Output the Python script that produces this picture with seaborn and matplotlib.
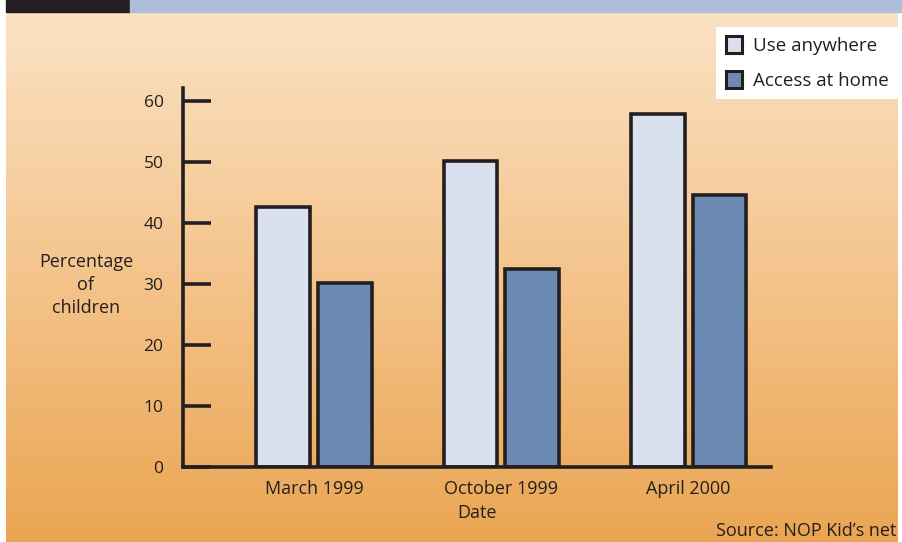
import numpy as np
import pandas as pd
import matplotlib.pyplot as plt
import matplotlib.colors as mcolors
from matplotlib.patches import Rectangle, Patch
import seaborn as sns

# Children using the internet
dates = ['March 1999', 'October 1999', 'April 2000']
use_anywhere = [42.6, 50.2, 57.9]
access_home = [30.2, 32.5, 44.7]
series = ['Use anywhere', 'Access at home']
colors = ['#dae1ee', '#6b8bb5']

df = pd.DataFrame({
    'Date': dates * 2,
    'Series': [series[0]] * 3 + [series[1]] * 3,
    'Value': use_anywhere + access_home,
})

sns.set_style('white')
plt.rcParams['font.family'] = ['Open Sans', 'DejaVu Sans']
ink = '#231f20'

fig = plt.figure(figsize=(9.02, 5.42), dpi=100)
fig.patch.set_facecolor('white')

# gradient background
bg = fig.add_axes([6 / 902, 0, 892 / 902, 1 - 12 / 542], zorder=-2)
cmap = mcolors.LinearSegmentedColormap.from_list('bg', ['#fbe2c4', '#f4c48c', '#eaa552'])
grad = np.linspace(0, 1, 256).reshape(-1, 1)
bg.imshow(grad, aspect='auto', cmap=cmap, extent=[0, 1, 0, 1], origin='upper')
bg.set_axis_off()

# header strip
fig.patches.append(Rectangle((6 / 902, 1 - 12 / 542), 124 / 902, 12 / 542,
                             transform=fig.transFigure, color=ink, zorder=-1))
fig.patches.append(Rectangle((130 / 902, 1 - 12 / 542), 772 / 902, 12 / 542,
                             transform=fig.transFigure, color='#adbfd8', zorder=-1))

ax = fig.add_axes([183 / 902, 75 / 542, 588 / 902, 379 / 542])
ax.set_facecolor('none')
sns.barplot(data=df, x='Date', y='Value', hue='Series', palette=colors,
            width=0.66, gap=0.13, edgecolor=ink, linewidth=2.6, ax=ax,
            legend=False, saturation=1)

ax.set_xlim(-0.70, 2.44)
ax.set_ylim(0, 62.2)
ax.set_yticks(range(0, 61, 10))
for s in ['top', 'right']:
    ax.spines[s].set_visible(False)
for s in ['left', 'bottom']:
    ax.spines[s].set_color(ink)
    ax.spines[s].set_linewidth(2.6)
ax.tick_params(axis='y', left=True, direction='in', length=20, width=2.6,
               color=ink, pad=14, labelsize=12.5, labelcolor=ink)
ax.tick_params(axis='x', bottom=False, length=0, pad=9, labelsize=13,
               labelcolor=ink)

ax.set_xlabel('Date', fontsize=13, color=ink, labelpad=5)
ax.set_ylabel('')
fig.text(86 / 902, 1 - 285 / 542, 'Percentage\nof\nchildren', ha='center',
         va='center', fontsize=13, color=ink, linespacing=1.38)
fig.text(896 / 902, 1 - 531 / 542, 'Source: NOP Kid\u2019s net', ha='right',
         va='center', fontsize=13, color=ink)

handles = [Patch(facecolor=c, edgecolor=ink, linewidth=2.2) for c in colors]
leg = ax.legend(handles, series, loc='upper right',
                bbox_to_anchor=(898 / 902, 1 - 27 / 542),
                bbox_transform=fig.transFigure, fontsize=13.5, frameon=True,
                fancybox=False, framealpha=1, handlelength=0.85,
                handleheight=1.0, handletextpad=0.6, labelspacing=0.85,
                borderpad=0.5, borderaxespad=0)
leg.get_frame().set_facecolor('white')
leg.get_frame().set_edgecolor('white')
leg.get_frame().set_linewidth(0)
for t in leg.get_texts():
    t.set_color(ink)

fig.savefig('out.png', dpi=100)
